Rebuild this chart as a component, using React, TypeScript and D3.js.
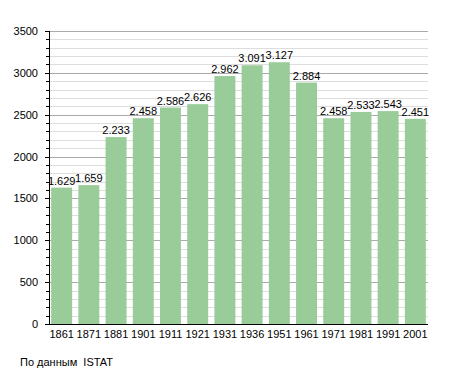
import React from "react";
import * as d3 from "d3";

const years: string[] = ["1861", "1871", "1881", "1901", "1911", "1921", "1931", "1936", "1951", "1961", "1971", "1981", "1991", "2001"];
const population: number[] = [1629, 1659, 2233, 2458, 2586, 2626, 2962, 3091, 3127, 2884, 2458, 2533, 2543, 2451];
const majorTicks: number[] = [0, 500, 1000, 1500, 2000, 2500, 3000, 3500];
const minorTicks: number[] = d3.range(0, 3501, 100);

const width = 455;
const height = 373;
const marginLeft = 49;
const marginRight = 27;
const marginTop = 31;
const marginBottom = 49;

const fmt = (v: number): string => d3.format(",")(v).replace(/,/g, ".");

const App = (): React.JSX.Element => {
  const x = d3
    .scaleBand<string>()
    .domain(years)
    .range([marginLeft, width - marginRight])
    .paddingInner(0.23)
    .paddingOuter(0.08);
  const y = d3.scaleLinear([0, 3500], [height - marginBottom, marginTop]);
  const font = "'Liberation Sans', Arial, sans-serif";

  return (
    <svg width={width} height={height} style={{ position: "absolute", left: 0, top: 0, background: "#fff" }} fontFamily={font}>
      {/* minor grid */}
      <g stroke="#dddddd" strokeWidth={1}>
        {minorTicks
          .filter((t) => t % 500 !== 0)
          .map((t) => (
            <line key={t} x1={marginLeft} x2={width - marginRight} y1={Math.round(y(t)) + 0.5} y2={Math.round(y(t)) + 0.5} />
          ))}
      </g>
      {/* major grid */}
      <g stroke="#aaaaaa" strokeWidth={1}>
        {majorTicks
          .filter((t) => t > 0)
          .map((t) => (
            <line key={t} x1={marginLeft} x2={width - marginRight} y1={Math.round(y(t)) + 0.5} y2={Math.round(y(t)) + 0.5} />
          ))}
      </g>
      {/* bars */}
      <g fill="#99cc99">
        {population.map((d, i) => (
          <rect key={years[i]} x={x(years[i])} y={y(d)} width={x.bandwidth()} height={y(0) - y(d)} />
        ))}
      </g>
      {/* value labels */}
      <g fontSize={11} textAnchor="middle" fill="#000">
        {population.map((d, i) => (
          <text key={years[i]} x={(x(years[i]) as number) + x.bandwidth() / 2} y={y(d) - 3}>
            {fmt(d)}
          </text>
        ))}
      </g>
      {/* y axis */}
      <g stroke="#000">
        <line x1={marginLeft + 0.5} x2={marginLeft + 0.5} y1={y(3500)} y2={y(0)} />
        {minorTicks.map((t) => (
          <line key={t} x1={marginLeft - (t % 500 === 0 ? 4 : 3)} x2={marginLeft} y1={Math.round(y(t)) + 0.5} y2={Math.round(y(t)) + 0.5} />
        ))}
        <line x1={marginLeft} x2={width - marginRight} y1={Math.round(y(0)) + 0.5} y2={Math.round(y(0)) + 0.5} />
      </g>
      <g fontSize={11} textAnchor="end" fill="#000">
        {majorTicks.map((t) => (
          <text key={t} x={marginLeft - 11} y={y(t) + 4}>
            {t}
          </text>
        ))}
      </g>
      {/* x axis labels */}
      <g fontSize={11} textAnchor="middle" fill="#000">
        {years.map((yr) => (
          <text key={yr} x={(x(yr) as number) + x.bandwidth() / 2} y={y(0) + 14}>
            {yr}
          </text>
        ))}
      </g>
      <text x={20} y={366} fontSize={11} fill="#000">
        {"По данным\u00a0 ISTAT"}
      </text>
    </svg>
  );
};

export default App;
